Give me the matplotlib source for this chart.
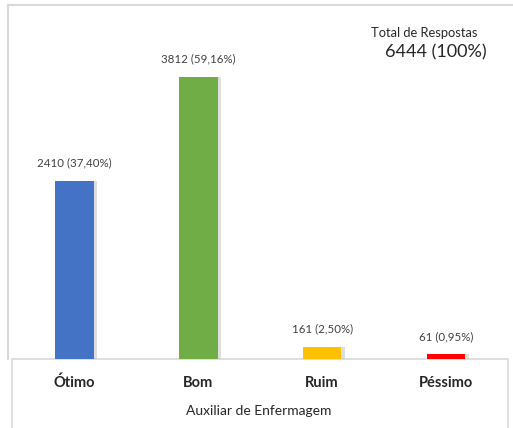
import matplotlib
matplotlib.use("Agg")
import matplotlib.pyplot as plt
from matplotlib.lines import Line2D
from matplotlib.patches import Rectangle

categories = ["Ótimo", "Bom", "Ruim", "Péssimo"]
counts = [2410, 3812, 161, 61]
percents = ["37,40%", "59,16%", "2,50%", "0,95%"]
bar_colors = ["#4472C4", "#70AD47", "#FFC000", "#FF0000"]
total_label = "6444 (100%)"

plt.rcParams['font.family'] = ['Lato', 'DejaVu Sans']

W, H = 513, 428
fig = plt.figure(figsize=(W / 100, H / 100), dpi=100)

# axes area: baseline at y=359px, top at y=5px
ax = fig.add_axes([10 / W, (H - 359) / H, 498 / W, 354 / H])
x = list(range(len(categories)))

# soft shadow on the right of each bar
ax.bar([i + 0.03 for i in x], counts, width=0.31, color="#bfbfbf", alpha=0.5, zorder=1)
bars = ax.bar(x, counts, width=0.31, color=bar_colors, zorder=2)

for b, c, p in zip(bars, counts, percents):
    ax.annotate(f"{c} ({p})", (b.get_x() + b.get_width() / 2, b.get_height()),
                xytext=(0, 9), textcoords="offset points", ha="center", va="bottom",
                fontsize=8.3, color="#404040")

ax.set_xlim(-0.52, 3.5)
ax.set_ylim(0, 4780)
ax.set_yticks([])
ax.set_xticks(x)
ax.set_xticklabels(categories, fontsize=10.5, fontweight="bold", color="#262626")
ax.tick_params(axis="x", length=0, pad=12)
ax.set_xlabel("Auxiliar de Enfermagem", fontsize=10, color="#262626", labelpad=11)
for s in ax.spines.values():
    s.set_visible(False)
ax.patch.set_alpha(0)

ax.text(0.831, 0.921, "Total de Respostas", transform=ax.transAxes, ha="center",
        va="center", fontsize=9.3, color="#262626")
ax.text(0.855, 0.867, total_label, transform=ax.transAxes, ha="center",
        va="center", fontsize=13, color="#262626")

# frame lines
fc = "#d9d9d9"
fig.add_artist(Line2D([8 / W, 8 / W], [(H - 5) / H, (H - 359) / H], color=fc, lw=1.5))
fig.add_artist(Line2D([8 / W, 1], [(H - 5) / H, (H - 5) / H], color=fc, lw=1.5))
fig.add_artist(Rectangle((12 / W, -0.02), 496 / W, (H - 359) / H + 0.02,
                         fill=False, edgecolor=fc, lw=1.2, zorder=0))

fig.savefig("out.png", dpi=100)
